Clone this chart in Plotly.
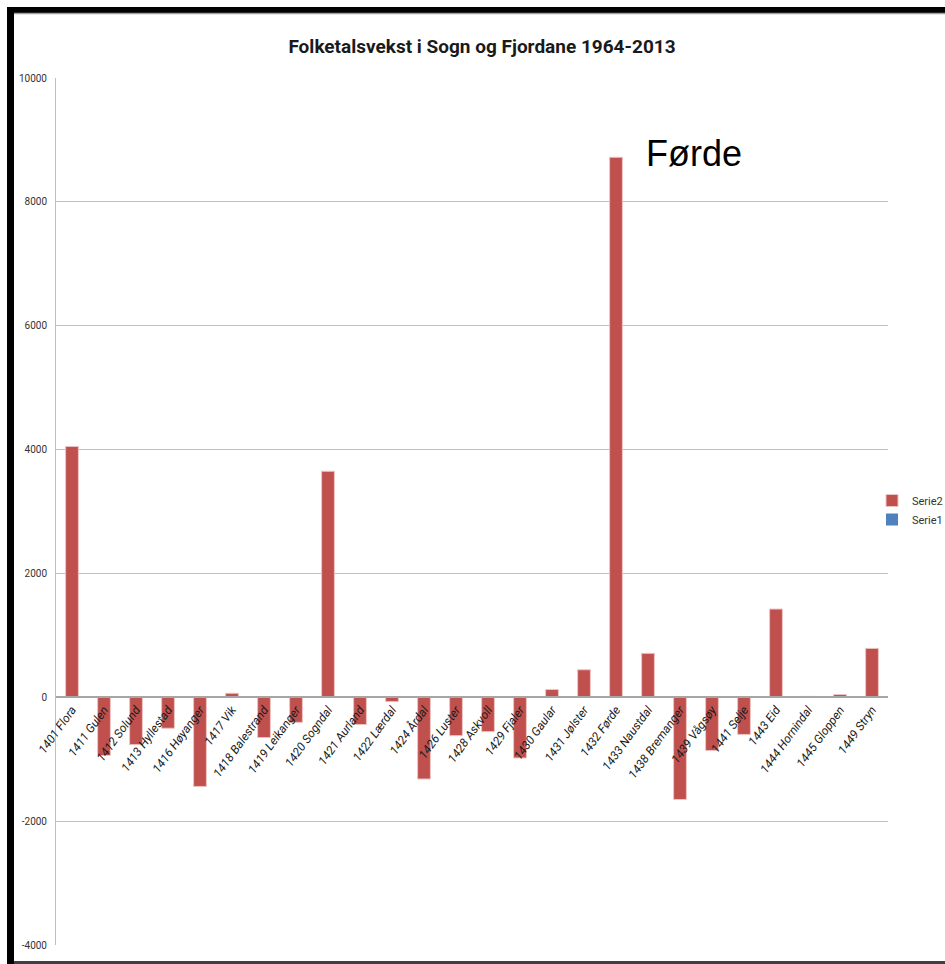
import plotly.graph_objects as go

categories = [
    "1401 Flora", "1411 Gulen", "1412 Solund", "1413 Hyllestad", "1416 Høyanger",
    "1417 Vik", "1418 Balestrand", "1419 Leikanger", "1420 Sogndal", "1421 Aurland",
    "1422 Lærdal", "1424 Årdal", "1426 Luster", "1428 Askvoll", "1429 Fjaler",
    "1430 Gaular", "1431 Jølster", "1432 Førde", "1433 Naustdal", "1438 Bremanger",
    "1439 Vågsøy", "1441 Selje", "1443 Eid", "1444 Hornindal", "1445 Gloppen",
    "1449 Stryn",
]
serie2 = [
    4050, -940, -765, -500, -1440,
    65, -650, -405, 3650, -440,
    -70, -1320, -620, -555, -980,
    125, 445, 8720, 710, -1650,
    -860, -600, 1425, 15, 45,
    790,
]
serie1 = [0, 0, 0, 0, 0, 0, 0, 0, 0, 0, 0, 0, 0, 0, 0, 0, 0, 0, 0, 0, 0, 0, 0, 0, 0, 0]
y_ticks = [-4000, -2000, 0, 2000, 4000, 6000, 8000, 10000]
title_text = "Folketalsvekst i Sogn og Fjordane 1964-2013"
highlight = "1432 Førde"
highlight_label = "Førde"

W, H = 945, 964
L, R, T, B = 56, 57, 78, 19
YMIN, YMAX = -4000, 10000
FONT = "Roboto, Liberation Sans, sans-serif"


def px_x(p):
    return (p - L) / (W - L - R)


def px_y(p):
    return (H - B - p) / (H - T - B)


fig = go.Figure()
fig.add_trace(go.Bar(
    x=categories, y=serie2, name="Serie2",
    marker=dict(color="#C0504D", line=dict(color="#EDC4C3", width=1)),
    width=0.4,
))
fig.add_trace(go.Bar(
    x=categories, y=serie1, name="Serie1",
    marker=dict(color="#4F81BD", line=dict(width=0)),
    width=0.4,
))

hi_idx = categories.index(highlight)
fig.add_annotation(
    x=categories[hi_idx], y=serie2[hi_idx], xref="x", yref="y",
    text=highlight_label, showarrow=False,
    xanchor="left", yanchor="middle", xshift=28, yshift=4,
    font=dict(family="Liberation Sans, Arial, sans-serif", size=36, color="#000000"),
)

shapes = [
    dict(type="rect", xref="paper", yref="paper",
         x0=px_x(7), x1=px_x(14), y0=px_y(965), y1=px_y(7),
         fillcolor="#000000", line=dict(width=0), layer="above"),
    dict(type="rect", xref="paper", yref="paper",
         x0=px_x(7), x1=px_x(946), y0=px_y(13), y1=px_y(7),
         fillcolor="#000000", line=dict(width=0), layer="above"),
    dict(type="line", xref="paper", yref="paper",
         x0=px_x(14), x1=px_x(946), y0=px_y(13.5), y1=px_y(13.5),
         line=dict(color="#A0A0A0", width=1.5), layer="above"),
    dict(type="rect", xref="paper", yref="paper",
         x0=px_x(14), x1=px_x(946), y0=px_y(965), y1=px_y(961),
         fillcolor="#404040", line=dict(width=0), layer="above"),
]

fig.update_layout(
    width=W, height=H,
    margin=dict(l=L, r=R, t=T, b=B, pad=0, autoexpand=False),
    paper_bgcolor="#FFFFFF", plot_bgcolor="#FFFFFF",
    barmode="overlay",
    showlegend=True,
    title=dict(
        text=title_text, x=px_x(482), xref="paper", xanchor="center",
        y=1 - 46 / H, yanchor="middle",
        font=dict(family=FONT, size=19, color="#1A1A1A", weight="bold"),
    ),
    legend=dict(
        x=px_x(872), y=px_y(510), xanchor="left", yanchor="middle",
        font=dict(family=FONT, size=11, color="#333333"),
        bgcolor="rgba(0,0,0,0)", itemwidth=30, tracegroupgap=6,
    ),
    shapes=shapes,
    xaxis=dict(
        type="category", automargin=False,
        anchor="free", position=(0 - YMIN) / (YMAX - YMIN),
        showline=True, linecolor="#A6A6A6", linewidth=1.5,
        showgrid=False, zeroline=False,
        ticks="", tickangle=-54,
        tickfont=dict(family=FONT, size=12, color="#1A1A1A", style="italic"),
        range=[-0.5, len(categories) - 0.5],
    ),
    yaxis=dict(
        range=[YMIN, YMAX], tickvals=y_ticks, ticktext=[str(v) for v in y_ticks],
        automargin=False,
        showgrid=True, gridcolor="#BEBEBE", gridwidth=1,
        zeroline=False,
        showline=True, linecolor="#BEBEBE", linewidth=1,
        ticks="", ticklabelstandoff=6,
        tickfont=dict(family=FONT, size=10, color="#333333"),
    ),
)

fig.write_html(
    "out.html",
    config={"displayModeBar": False},
    post_script="document.body.style.margin='0';document.body.style.overflow='hidden';",
)
